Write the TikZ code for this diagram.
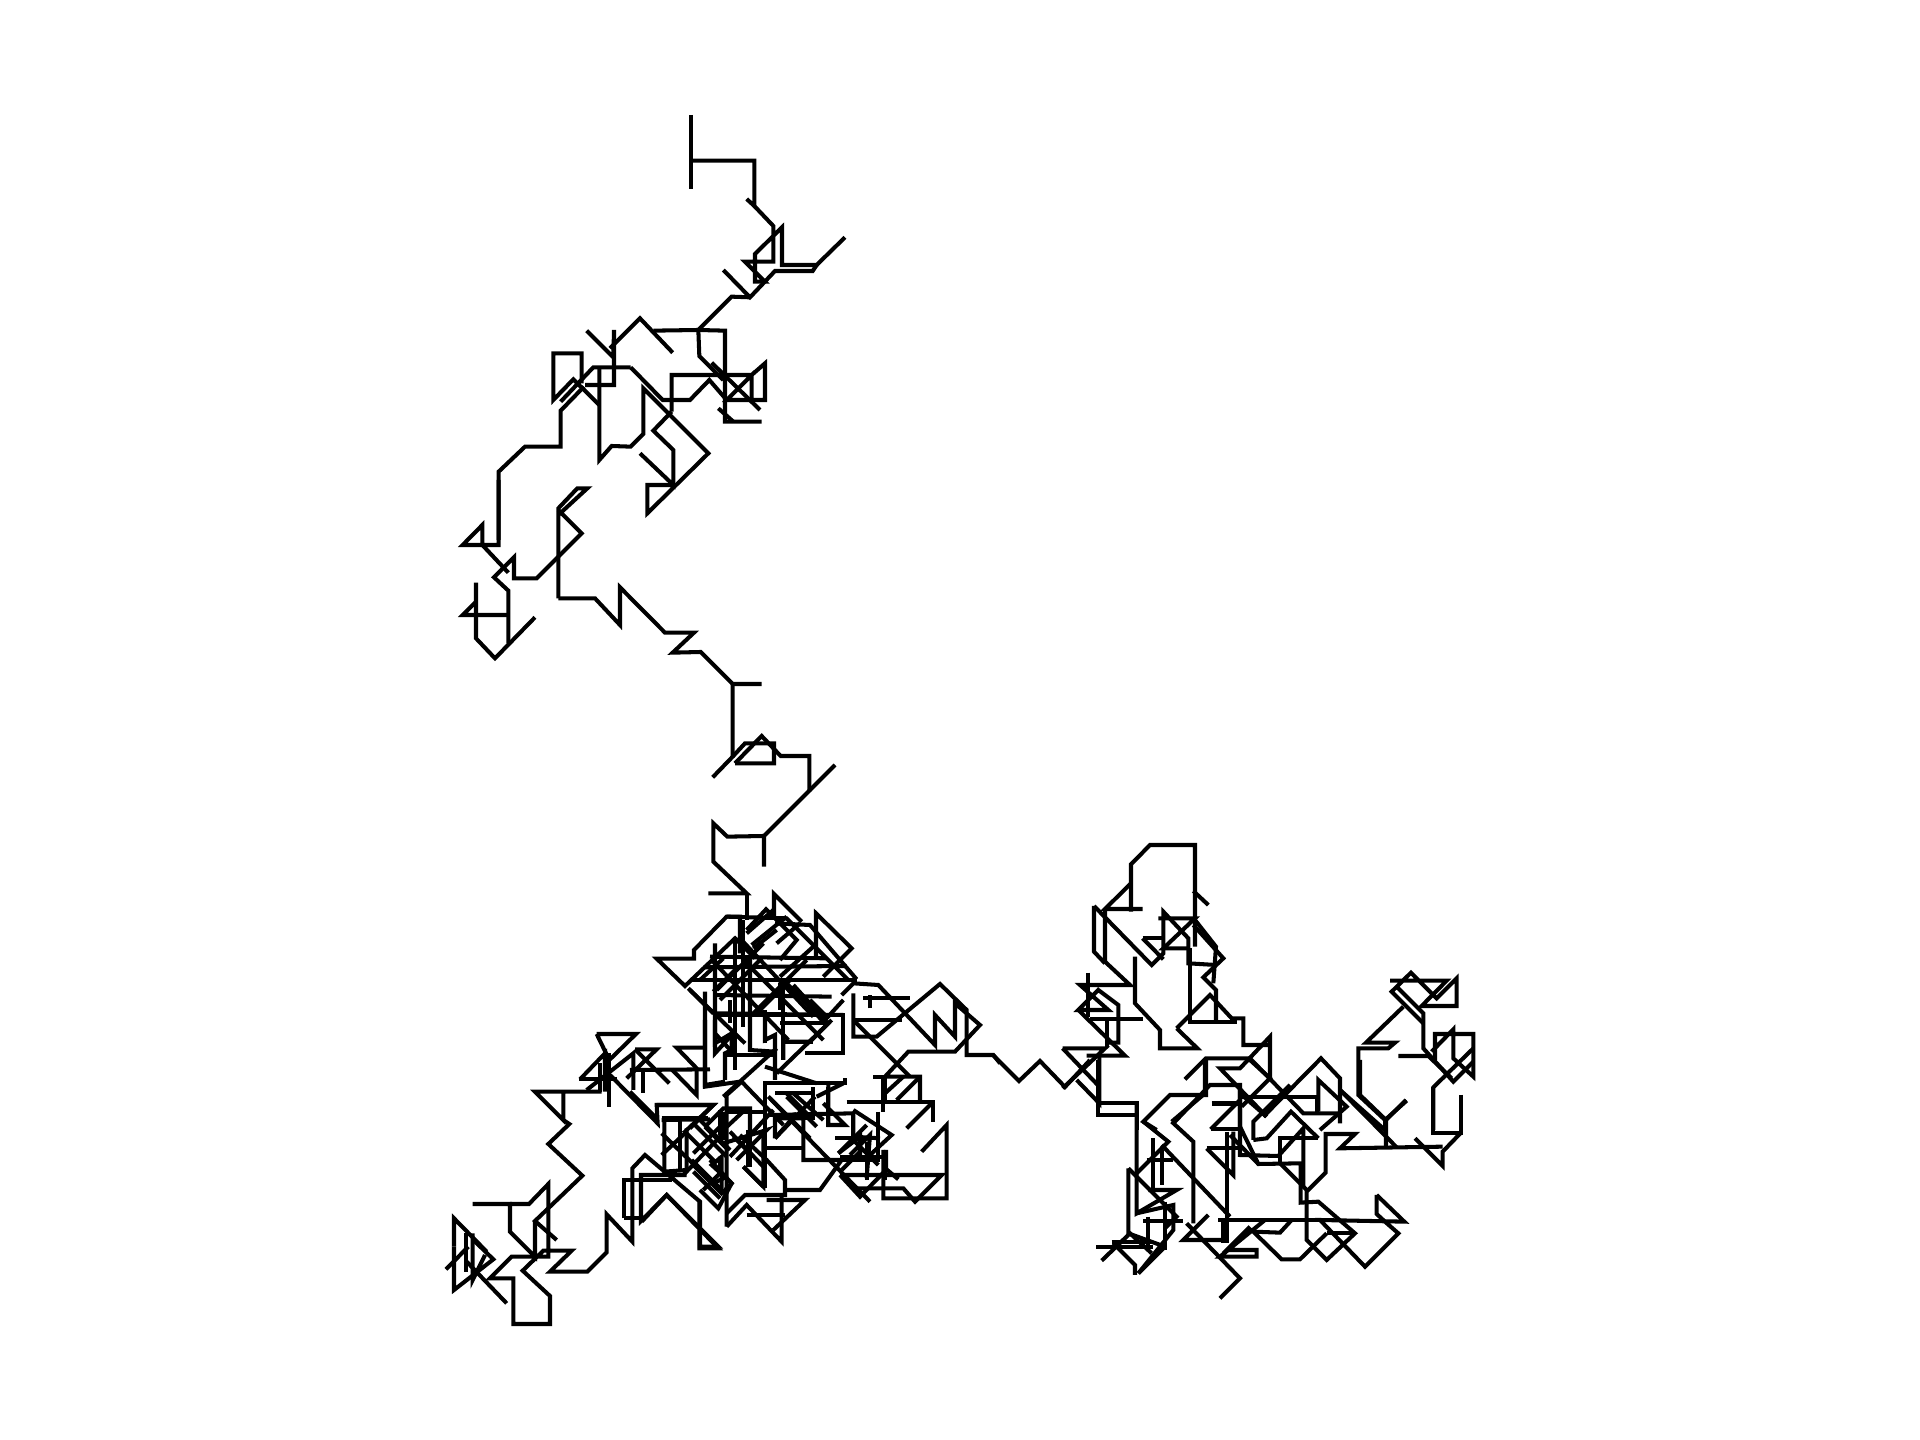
\documentclass[tikz,border=0pt]{standalone}
\tikzset{
  walk/.style={draw=black, line width=1.15pt},
  crop/.style 2 args={shift={(#1,#2)}, scale=1/3},
}
\begin{document}
\begin{tikzpicture}[x=0.01cm,y=-0.01cm]
  \useasboundingbox (0,0) rectangle (1920,1440);
  % top arm
  \begin{scope}[crop={440}{100}]
    \draw[walk] (753,45) -- (753,268);
    \draw[walk] (753,182) -- (943,182) -- (943,318) -- (920,297);
    \draw[walk] (943,318) -- (1000,378) -- (1000,485) -- (915,485) -- (975,545) -- (945,545) -- (945,462) -- (1026,382) -- (1026,495) -- (1130,495) -- (1215,412);
    \draw[walk] (1130,495) -- (1118,513) -- (1005,513) -- (930,592) -- (850,510);
    \draw[walk] (930,592) -- (875,590) -- (775,690) -- (855,692) -- (855,965) -- (965,965);
    \draw[walk] (835,925) -- (880,965);
    \draw[walk] (775,690) -- (640,692);
    \draw[walk] (698,758) -- (600,655) -- (510,745);
    \draw[walk] (440,692) -- (520,772) -- (522,690) -- (522,855) -- (435,855);
    \draw[walk] (775,690) -- (778,768) -- (850,840);
    \draw[walk] (815,788) -- (960,930);
    \draw[walk] (695,935) -- (695,825) -- (935,825) -- (975,790) -- (975,900) -- (860,900) -- (935,825) -- (935,900);
    \draw[walk] (695,935) -- (640,992) -- (700,1050) -- (700,1155) -- (600,1060);
    \draw[walk] (572,802) -- (668,900) -- (750,900) -- (808,840) -- (860,900);
    \draw[walk] (572,802) -- (460,802) -- (362,905);
    \draw[walk] (478,805) -- (478,1080) -- (515,1038) -- (572,1040) -- (610,1002) -- (610,865) -- (805,1060) -- (622,1240) -- (622,1155) -- (700,1155);
    \draw[walk] (478,915) -- (400,838) -- (340,900) -- (340,760) -- (425,760) -- (425,850);
    \draw[walk] (432,860) -- (362,932) -- (362,1040) -- (255,1040) -- (176,1115) -- (176,1320);
  \end{scope}
  % middle arm
  \begin{scope}[crop={440}{480}]
    \draw[walk] (176,0) -- (176,195) -- (68,195) -- (127,135) -- (127,195) -- (205,278);
    \draw[walk] (205,490) -- (205,332) -- (162,292) -- (222,232) -- (222,295) -- (290,295) -- (425,160) -- (355,90);
    \draw[walk] (355,355) -- (355,85) -- (412,25) -- (442,25) -- (355,105);
    \draw[walk] (355,355) -- (465,355) -- (540,435) -- (540,322) -- (675,458) -- (762,458) -- (698,518) -- (782,516) -- (878,612) -- (965,612);
    \draw[walk] (878,612) -- (878,830) -- (818,892);
    \draw[walk] (108,308) -- (108,475) -- (165,535) -- (285,412);
    \draw[walk] (205,405) -- (68,405) -- (108,365);
    \draw[walk] (885,850) -- (965,768) -- (1022,828) -- (1108,828) -- (1108,935);
    \draw[walk] (885,850) -- (1002,850) -- (1002,790) -- (915,790) -- (878,830);
    \draw[walk] (1185,855) -- (972,1068) -- (972,1160);
    \draw[walk] (972,1068) -- (862,1070) -- (820,1030) -- (820,1145) -- (920,1240) -- (805,1240);
    \draw[walk] (920,1240) -- (920,1320);
  \end{scope}
  % upper knot
  \begin{scope}[crop={640}{880}]
    \draw[walk] (402,120) -- (402,42) -- (485,125);
    \draw[walk] (320,150) -- (378,88) -- (470,180) -- (420,240);
    \draw[walk] (300,220) -- (300,110) -- (260,110) -- (162,210) -- (162,236) -- (50,236) -- (135,318) -- (285,175) -- (345,235);
    \draw[walk] (260,110) -- (440,115) -- (625,300);
    \draw[walk] (340,205) -- (410,150);
    \draw[walk] (405,130) -- (510,135) -- (650,298);
    \draw[walk] (528,230) -- (528,100) -- (635,205) -- (550,290);
    \draw[walk] (210,230) -- (560,235);
    \draw[walk] (150,300) -- (650,300);
    \draw[walk] (190,262) -- (620,258);
    \draw[walk] (225,345) -- (575,350);
    \draw[walk] (225,405) -- (610,405) -- (610,520) -- (495,520);
    \draw[walk] (225,190) -- (225,490) -- (275,460);
    \draw[walk] (195,335) -- (195,620) -- (300,605);
    \draw[walk] (285,175) -- (285,570);
    \draw[walk] (330,235) -- (330,510) -- (405,515);
    \draw[walk] (375,400) -- (375,480) -- (405,465) -- (405,600);
    \draw[walk] (430,320) -- (430,540) -- (430,485) -- (520,485);
    \draw[walk] (150,330) -- (315,490);
    \draw[walk] (215,240) -- (445,480);
    \draw[walk] (310,240) -- (550,480);
    \draw[walk] (440,310) -- (550,425);
    \draw[walk] (460,325) -- (555,420) -- (610,360);
    \draw[walk] (180,300) -- (250,235);
    \draw[walk] (240,360) -- (365,235);
    \draw[walk] (340,400) -- (500,240);
    \draw[walk] (410,580) -- (575,420);
    \draw[walk] (375,560) -- (530,610);
    \draw[walk] (250,650) -- (410,505);
    \draw[walk] (275,460) -- (275,510) -- (255,520) -- (255,600);
    \draw[walk] (250,525) -- (410,525);
    \draw[walk] (605,345) -- (640,310) -- (715,315) -- (885,495) -- (885,405) -- (945,470) -- (945,370) -- (1020,435) -- (945,515) -- (805,515) -- (735,590) -- (840,590) -- (840,660);
    \draw[walk] (670,355) -- (810,355);
    \draw[walk] (640,340) -- (640,470) -- (710,470) -- (900,312) -- (980,390) -- (980,525) -- (1060,525) -- (1080,550);
    \draw[walk] (640,420) -- (810,590);
    \draw[walk] (640,420) -- (750,420) -- (785,420);
    \draw[walk] (690,385) -- (690,345);
    \draw[walk] (700,590) -- (735,590) -- (735,660);
    \draw[walk] (770,660) -- (840,590);
    \draw[walk] (735,640) -- (790,590);
  \end{scope}
  % upper knot, inner lines
  \begin{scope}[crop={680}{910}]
    \draw[walk] (180,85) -- (400,320);
    \draw[walk] (340,225) -- (440,335);
    \draw[walk] (390,270) -- (440,320);
    \draw[walk] (100,245) -- (175,170);
    \draw[walk] (200,70) -- (280,0);
    \draw[walk] (215,105) -- (320,20);
    \draw[walk] (290,100) -- (360,40);
    \draw[walk] (300,200) -- (400,110);
    \draw[walk] (110,240) -- (250,100);
    \draw[walk] (230,310) -- (330,210);
    \draw[walk] (150,340) -- (150,270);
    \draw[walk] (190,30) -- (190,350);
    \draw[walk] (210,170) -- (210,420);
    \draw[walk] (255,300) -- (255,400);
    \draw[walk] (300,220) -- (300,300);
    \draw[walk] (310,450) -- (310,395) -- (390,395) -- (450,335);
    \draw[walk] (100,310) -- (490,315);
    \draw[walk] (300,340) -- (450,340);
    \draw[walk] (25,235) -- (100,310);
  \end{scope}
  % lower left
  \begin{scope}[crop={430}{1020}]
    \draw[walk] (515,215) -- (315,215) -- (400,300) -- (400,215);
    \draw[walk] (400,300) -- (418,312) -- (355,372) -- (457,467) -- (315,603) -- (380,660);
    \draw[walk] (315,603) -- (315,710) -- (240,635) -- (240,552) -- (128,552);
    \draw[walk] (240,552) -- (297,552) -- (355,492) -- (355,710) -- (245,710) -- (180,775) -- (250,775) -- (250,912) -- (360,912) -- (360,828) -- (278,752) -- (340,692) -- (425,692) -- (360,755) -- (472,755) -- (530,697) -- (530,583) -- (607,665) -- (607,445) -- (645,405) -- (810,545) -- (810,680) -- (865,680) -- (710,525) -- (633,603) -- (633,465) -- (770,465);
    \draw[walk] (72,680) -- (72,595) -- (170,695);
    \draw[walk] (72,680) -- (72,810) -- (190,718) -- (130,660);
    \draw[walk] (108,640) -- (108,755);
    \draw[walk] (48,748) -- (115,680);
    \draw[walk] (110,725) -- (230,850);
    \draw[walk] (128,640) -- (128,780) -- (165,705);
    \draw[walk] (448,178) -- (560,178);
    \draw[walk] (470,210) -- (610,100) -- (610,210);
    \draw[walk] (500,42) -- (618,42) -- (538,120) -- (500,42);
    \draw[walk] (537,100) -- (537,262);
    \draw[walk] (510,130) -- (510,215);
    \draw[walk] (450,178) -- (525,100) -- (525,215);
    \draw[walk] (540,165) -- (683,310) -- (680,255) -- (850,255) -- (780,325);
    \draw[walk] (680,295) -- (600,215);
    \draw[walk] (615,88) -- (680,88) -- (590,175);
    \draw[walk] (615,88) -- (718,190);
    \draw[walk] (600,150) -- (840,148);
    \draw[walk] (640,150) -- (640,220);
    \draw[walk] (825,83) -- (740,83) -- (800,145) -- (800,225) -- (725,148);
    \draw[walk] (695,295) -- (835,295);
    \draw[walk] (703,295) -- (703,455) -- (770,450) -- (770,325);
    \draw[walk] (750,300) -- (750,450);
    \draw[walk] (695,340) -- (850,490) -- (890,470);
    \draw[walk] (695,405) -- (770,335);
    \draw[walk] (583,595) -- (583,480) -- (725,480);
    \draw[walk] (583,595) -- (633,595);
    \draw[walk] (825,0) -- (825,195) -- (885,185);
    \draw[walk] (855,0) -- (855,100) -- (910,40) -- (910,100);
    \draw[walk] (855,40) -- (910,100);
  \end{scope}
  % lower knot
  \begin{scope}[crop={640}{1060}]
    \draw[walk] (50,135) -- (220,135) -- (135,215) -- (230,310);
    \draw[walk] (50,135) -- (50,190);
    \draw[walk] (65,180) -- (210,178);
    \draw[walk] (260,500) -- (260,105) -- (305,65) -- (430,195);
    \draw[walk] (375,385) -- (375,70) -- (615,70) -- (615,55);
    \draw[walk] (405,100) -- (520,100) -- (520,180);
    \draw[walk] (385,110) -- (510,235);
    \draw[walk] (385,165) -- (640,160) -- (640,230) -- (720,235);
    \draw[walk] (405,235) -- (405,175) -- (490,175) -- (490,300) -- (605,300) -- (540,390) -- (440,390);
    \draw[walk] (405,235) -- (525,110);
    \draw[walk] (380,265) -- (490,265);
    \draw[walk] (440,100) -- (520,180);
    \draw[walk] (500,230) -- (690,425);
    \draw[walk] (565,75) -- (565,195) -- (615,195) -- (550,130);
    \draw[walk] (530,110) -- (610,70);
    \draw[walk] (715,155) -- (715,300) -- (600,300);
    \draw[walk] (640,150) -- (755,225) -- (690,285);
    \draw[walk] (585,235) -- (720,235);
    \draw[walk] (595,280) -- (660,230) -- (660,290);
    \draw[walk] (630,285) -- (690,225) -- (680,355);
    \draw[walk] (730,50) -- (730,155);
    \draw[walk] (620,125) -- (880,125) -- (880,185);
    \draw[walk] (880,125) -- (800,205);
    \draw[walk] (845,275) -- (920,195) -- (920,415) -- (730,415) -- (730,270);
    \draw[walk] (600,345) -- (905,345) -- (825,425) -- (790,385) -- (640,385);
    \draw[walk] (738,270) -- (738,330) -- (660,410) -- (600,345);
    \draw[walk] (730,320) -- (775,358);
    \draw[walk] (260,460) -- (315,405) -- (435,405) -- (435,360) -- (380,300) -- (300,225);
    \draw[walk] (260,500) -- (320,435) -- (425,545) -- (425,410);
    \draw[walk] (380,420) -- (495,420) -- (400,510);
    \draw[walk] (320,465) -- (435,465);
    \draw[walk] (178,420) -- (178,565) -- (235,565) -- (80,405) -- (5,485);
    \draw[walk] (195,200) -- (250,145) -- (330,145) -- (330,230);
    \draw[walk] (195,200) -- (260,265);
    \draw[walk] (250,210) -- (320,145);
    \draw[walk] (240,150) -- (240,225);
    \draw[walk] (155,300) -- (260,405);
    \draw[walk] (130,345) -- (245,225);
    \draw[walk] (180,390) -- (235,445) -- (275,370) -- (215,315) -- (245,290) -- (245,385);
    \draw[walk] (160,190) -- (260,290);
    \draw[walk] (250,250) -- (380,210) -- (290,300);
    \draw[walk] (310,320) -- (370,380) -- (370,230);
    \draw[walk] (325,210) -- (325,320);
    \draw[walk] (280,230) -- (335,285);
  \end{scope}
  % lower knot, inner lines
  \begin{scope}[crop={690}{1100}]
    \draw[walk] (30,60) -- (120,150);
    \draw[walk] (100,35) -- (100,120);
    \draw[walk] (110,35) -- (220,35);
    \draw[walk] (180,30) -- (180,200);
    \draw[walk] (120,170) -- (250,30);
    \draw[walk] (120,95) -- (220,200);
    \draw[walk] (160,200) -- (220,260);
    \draw[walk] (10,160) -- (90,80);
    \draw[walk] (10,195) -- (95,280) -- (125,250) -- (60,180);
    \draw[walk] (40,270) -- (90,220) -- (90,170);
    \draw[walk] (10,215) -- (90,295);
  \end{scope}
  \begin{scope}[crop={760}{1070}]
    \draw[walk] (20,40) -- (150,40);
    \draw[walk] (45,70) -- (160,70);
    \draw[walk] (40,145) -- (160,145) -- (160,50);
    \draw[walk] (45,205) -- (110,130);
    \draw[walk] (30,85) -- (140,200);
    \draw[walk] (80,80) -- (170,170);
    \draw[walk] (100,70) -- (190,150);
    \draw[walk] (205,50) -- (205,170);
    \draw[walk] (280,125) -- (280,205) -- (355,205) -- (355,125);
    \draw[walk] (235,250) -- (320,165);
    \draw[walk] (240,260) -- (380,260);
    \draw[walk] (245,300) -- (310,235);
    \draw[walk] (320,215) -- (320,330);
    \draw[walk] (375,240) -- (375,330);
    \draw[walk] (280,210) -- (355,285);
  \end{scope}
  % link to the right part
  \draw[walk] (993,1055) -- (1019,1081) -- (1040,1061) -- (1065,1087) -- (1090,1060);
  % right, upper part
  \begin{scope}[crop={1060}{830}]
    \draw[walk] (445,225) -- (400,183);
    \draw[walk] (405,350) -- (405,45) -- (270,45) -- (213,103) -- (213,245);
    \draw[walk] (248,237) -- (135,237) -- (213,160);
    \draw[walk] (135,237) -- (135,395) -- (210,465) -- (60,465) -- (145,540) -- (55,540) -- (115,480) -- (175,525) -- (175,638) -- (135,638);
    \draw[walk] (102,228) -- (102,365) -- (135,400);
    \draw[walk] (102,228) -- (275,405) -- (310,370) -- (310,245) -- (385,325) -- (385,400) -- (468,405);
    \draw[walk] (248,325) -- (310,325);
    \draw[walk] (248,325) -- (310,388);
    \draw[walk] (295,265) -- (405,265) -- (310,355) -- (385,355);
    \draw[walk] (400,285) -- (490,385) -- (430,442) -- (468,480) -- (468,575);
    \draw[walk] (405,270) -- (468,350) -- (460,460);
    \draw[walk] (390,355) -- (390,575) -- (530,575);
    \draw[walk] (350,595) -- (450,495) -- (515,565) -- (550,565) -- (550,645) -- (630,645);
    \draw[walk] (350,595) -- (412,655) -- (300,655) -- (300,600) -- (225,520) -- (225,380);
    \draw[walk] (85,428) -- (85,560);
    \draw[walk] (55,540) -- (195,677) -- (80,677);
    \draw[walk] (90,567) -- (250,567);
    \draw[walk] (140,570) -- (140,650);
    \draw[walk] (8,655) -- (135,655) -- (8,775);
    \draw[walk] (8,655) -- (118,770);
    \draw[walk] (50,750) -- (118,820) -- (118,680);
    \draw[walk] (118,820) -- (230,820) -- (230,900);
    \draw[walk] (118,855) -- (230,855);
    \draw[walk] (630,745) -- (630,620) -- (540,715) -- (480,715) -- (620,860);
    \draw[walk] (375,748) -- (438,685) -- (570,685) -- (730,850) -- (840,850);
    \draw[walk] (438,685) -- (438,795) -- (330,795) -- (250,875) -- (290,900);
    \draw[walk] (340,880) -- (450,765) -- (540,765) -- (540,900);
    \draw[walk] (455,822) -- (540,822);
    \draw[walk] (540,800) -- (770,800) -- (770,845);
    \draw[walk] (775,845) -- (775,750) -- (860,830) -- (780,900);
    \draw[walk] (840,880) -- (840,745) -- (783,685) -- (610,860);
    \draw[walk] (840,780) -- (975,900);
    \draw[walk] (1040,812) -- (975,870) -- (895,795) -- (895,655) -- (985,655) -- (1005,638) -- (918,638) -- (1030,530);
    \draw[walk] (975,870) -- (975,900);
    \draw[walk] (990,452) -- (1160,452) -- (1085,528) -- (1190,528) -- (1190,445) -- (1130,505) -- (1053,428) -- (995,485) -- (1090,580);
    \draw[walk] (1010,470) -- (1090,550) -- (1090,655) -- (1180,755) -- (1240,695);
    \draw[walk] (1015,678) -- (1105,678) -- (1175,745);
    \draw[walk] (1125,690) -- (1125,612) -- (1240,612) -- (1240,740) -- (1180,685) -- (1180,598) -- (1115,665);
    \draw[walk] (1240,655) -- (1120,772) -- (1120,900);
    \draw[walk] (1203,795) -- (1203,900);
    \draw[walk] (570,690) -- (630,745) -- (545,830);
  \end{scope}
  % right, lower part
  \begin{scope}[crop={1090}{1060}]
    \draw[walk] (1113,105) -- (1113,218) -- (1030,218) -- (1030,80);
    \draw[walk] (1113,218) -- (1058,275) -- (1058,318) -- (975,235);
    \draw[walk] (1058,260) -- (750,265) -- (795,222) -- (707,222) -- (707,338) -- (650,395) -- (650,540) -- (710,600) -- (795,520) -- (685,425) -- (632,428) -- (632,310) -- (505,312) -- (420,225);
    \draw[walk] (810,0) -- (810,105) -- (888,180) -- (888,262);
    \draw[walk] (888,180) -- (948,120);
    \draw[walk] (750,90) -- (920,262);
    \draw[walk] (860,405) -- (860,462) -- (885,485);
    \draw[walk] (860,405) -- (943,485) -- (690,480) -- (825,620) -- (925,520) -- (885,485);
    \draw[walk] (385,480) -- (690,480);
    \draw[walk] (710,520) -- (795,520);
    \draw[walk] (710,520) -- (630,598) -- (575,598) -- (490,515) -- (570,518) -- (605,480);
    \draw[walk] (480,500) -- (410,570) -- (500,570) -- (500,590) -- (390,590) -- (525,480);
    \draw[walk] (160,482) -- (280,482);
    \draw[walk] (355,465) -- (280,540) -- (410,540);
    \draw[walk] (290,490) -- (450,655) -- (390,715);
    \draw[walk] (245,185) -- (310,245) -- (310,490);
    \draw[walk] (345,0) -- (345,100) -- (245,185);
    \draw[walk] (215,255) -- (420,470);
    \draw[walk] (410,215) -- (410,550);
    \draw[walk] (400,480) -- (400,550);
    \draw[walk] (350,265) -- (430,345) -- (430,215);
    \draw[walk] (350,265) -- (450,265);
    \draw[walk] (362,208) -- (450,120);
    \draw[walk] (362,208) -- (450,208);
    \draw[walk] (450,90) -- (450,285) -- (565,288) -- (640,205) -- (640,380);
    \draw[walk] (365,130) -- (450,130);
    \draw[walk] (450,200) -- (505,312);
    \draw[walk] (490,240) -- (490,185) -- (600,75);
    \draw[walk] (490,240) -- (530,235) -- (603,155) -- (685,235);
    \draw[walk] (570,310) -- (570,235) -- (685,235);
    \draw[walk] (570,310) -- (650,390);
    \draw[walk] (450,100) -- (530,170);
    \draw[walk] (160,185) -- (235,245) -- (140,340);
    \draw[walk] (140,130) -- (140,460) -- (260,390) -- (175,390);
    \draw[walk] (115,325) -- (115,520) -- (225,560);
    \draw[walk] (115,325) -- (260,470) -- (225,505);
    \draw[walk] (190,235) -- (190,390);
    \draw[walk] (215,270) -- (215,375);
    \draw[walk] (170,300) -- (250,300);
    \draw[walk] (140,460) -- (250,435) -- (250,510) -- (145,640);
    \draw[walk] (225,425) -- (225,570);
    \draw[walk] (175,470) -- (175,560);
    \draw[walk] (18,562) -- (190,562);
    \draw[walk] (65,545) -- (190,545);
    \draw[walk] (35,602) -- (120,520) -- (185,580);
    \draw[walk] (70,550) -- (135,615) -- (135,645);
    \draw[walk] (145,640) -- (225,560);
    \draw[walk] (25,0) -- (25,130) -- (140,130);
    \draw[walk] (25,130) -- (25,165) -- (135,165);
  \end{scope}
\end{tikzpicture}
\end{document}
